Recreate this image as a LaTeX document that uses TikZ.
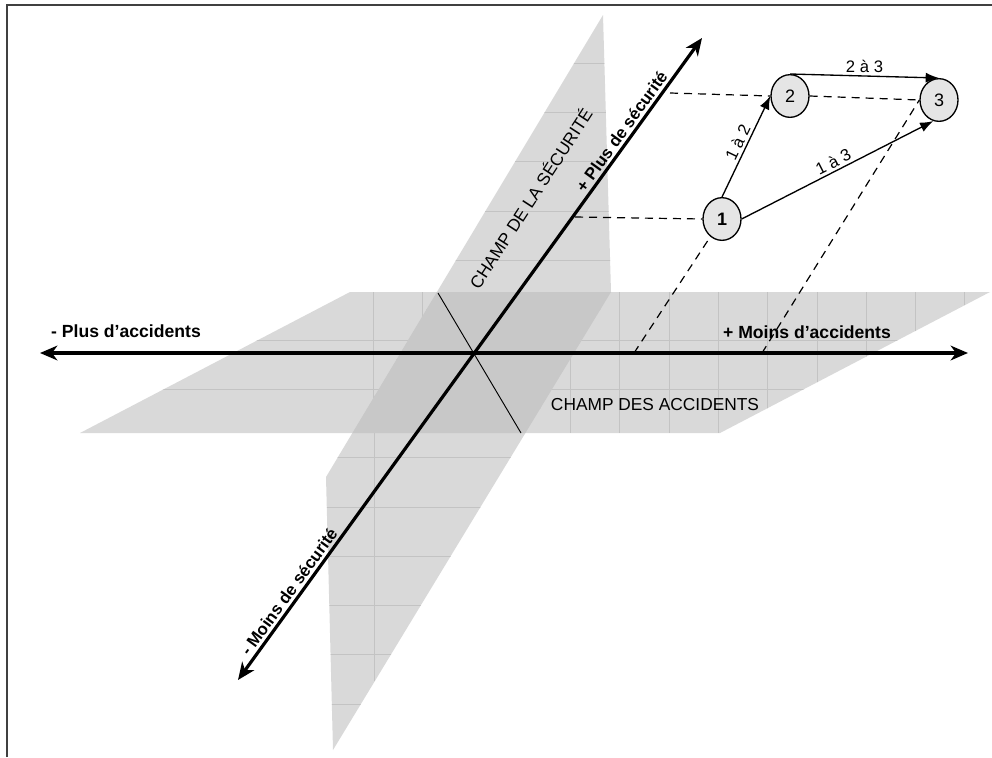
\documentclass[tikz,border=0pt]{standalone}
\usepackage{fontspec}
\setmainfont{Liberation Sans}
\usetikzlibrary{arrows.meta,shapes.geometric}
\definecolor{planecol}{RGB}{217,217,217}
\definecolor{overcol}{RGB}{200,200,200}
\definecolor{gridcol}{RGB}{195,195,195}
\begin{document}
\begin{tikzpicture}[x=0.75pt,y=-0.75pt,
  lbl/.style={font=\fontsize{13pt}{15pt}\selectfont, inner sep=0pt},
  boldlbl/.style={font=\fontsize{13.2pt}{15pt}\selectfont\bfseries, inner sep=0pt},
  axislbl/.style={font=\fontsize{12.6pt}{14pt}\selectfont\bfseries, inner sep=0pt},
  circ/.style={draw, line width=1pt, fill=black!10, ellipse, minimum width=28.5pt, minimum height=32pt, inner sep=0pt, font=\fontsize{13.5pt}{15pt}\selectfont},
  axisline/.style={line width=2.4pt, {Stealth[length=13pt,width=11pt,inset=4pt]}-{Stealth[length=13pt,width=11pt,inset=4pt]}},
  edgeline/.style={line width=1pt, -{Latex[length=10pt,width=7.5pt]}},
  projline/.style={line width=0.9pt, dash pattern=on 6pt off 4.5pt},
  edgelbl/.style={font=\fontsize{12.5pt}{14pt}\selectfont, inner sep=2pt}
]
\useasboundingbox (0,0) rectangle (992,757);
% frame
\draw[line width=1.1pt, black!75] (7,757) -- (7,5) -- (992,5);

% planes
\path[fill=planecol] (350,292) -- (990,292) -- (720,433) -- (80,433) -- cycle;
\path[fill=planecol] (603,15) -- (611,292) -- (333,750) -- (326,477) -- cycle;
% grid on horizontal plane
\begin{scope}
  \clip (350,292) -- (990,292) -- (720,433) -- (80,433) -- cycle;
  \foreach \gx in {373,422.3,...,990} \draw[gridcol, line width=0.3pt] (\gx,292) -- (\gx,433);
  \foreach \gy in {340,389} \draw[gridcol, line width=0.3pt] (80,\gy) -- (990,\gy);
\end{scope}
% grid on vertical plane
\begin{scope}
  \clip (603,15) -- (611,292) -- (333,750) -- (326,477) -- cycle;
  \foreach \gy in {63,112.3,...,757} \draw[gridcol, line width=0.3pt] (320,\gy) -- (615,\gy);
  \draw[gridcol, line width=0.3pt] (374,15) -- (374,757);
\end{scope}
% overlap
\begin{scope}
  \clip (350,292) -- (990,292) -- (720,433) -- (80,433) -- cycle;
  \path[fill=overcol] (603,15) -- (611,292) -- (333,750) -- (326,477) -- cycle;
\end{scope}

% thin crossing line
\coordinate (t1) at (438,293);
\coordinate (t2) at (521,433);
\draw[line width=0.7pt] (t1) -- (t2);

% axes
\coordinate (hl) at (40,353);
\coordinate (hr) at (968,353);
\coordinate (dl) at (238,680);
\coordinate (du) at (702,38);
\draw[axisline] (hl) -- (hr);
\draw[axisline] (dl) -- (du);

% nodes
\node[circ, font=\fontsize{13.5pt}{15pt}\selectfont\bfseries] (n1) at (722,219) {1};
\node[circ] (n2) at (790,96) {2};
\node[circ] (n3) at (939,100) {3};

% dashed projections
\coordinate (a1) at (575,217);
\coordinate (a2) at (670,93);
\coordinate (h1) at (634,353);
\coordinate (h2) at (762,353);
\draw[projline] (a1) -- (n1.west);
\draw[projline] (a2) -- (n2.west);
\draw[projline] (n2.east) -- (n3.west);
\draw[projline] (h1) -- (n1);
\draw[projline] (h2) -- (n3.west);

% edges
\draw[edgeline] (n1.north) -- node[edgelbl, sloped, above] {1 à 2} (n2.west);
\draw[edgeline] (n2.north) -- node[edgelbl, above] {2 à 3} (n3.north);
\draw[edgeline] (n1.east) -- node[edgelbl, sloped, above] {1 à 3} (n3.255);

% labels
\node[boldlbl] (lplus) at (126,331) {- Plus d’accidents};
\node[boldlbl] (lmoins) at (807,332) {+ Moins d’accidents};
\node[lbl] (champacc) at (655,405) {CHAMP DES ACCIDENTS};
\node[lbl, rotate=57] (champsec) at (530,198) {CHAMP DE LA SÉCURITÉ};
\path (dl) -- (du)
  node[axislbl, sloped, above=3pt, pos=0.845] (psec) {+ Plus de sécurité}
  node[axislbl, sloped, above=3pt, pos=0.128] (msec) {- Moins de sécurité};
\end{tikzpicture}
\end{document}
